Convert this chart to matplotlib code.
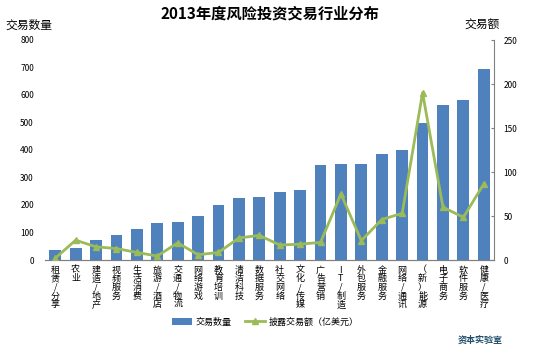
import matplotlib.pyplot as plt
import numpy as np
from matplotlib.lines import Line2D
from matplotlib.patches import Patch

plt.rcParams['font.family'] = ['Noto Sans CJK SC', 'DejaVu Sans']

categories = ["租赁/分享", "农业", "建造/地产", "视频服务", "生活消费", "旅游/酒店",
              "交通/物流", "网络游戏", "教育培训", "清洁科技", "数据服务", "社交网络",
              "文化/传媒", "广告营销", "IT/制造", "外包服务", "金融服务", "网络/通讯",
              "（新）能源", "电子商务", "软件服务", "健康/医疗"]
deal_counts = [36, 44, 73, 91, 113, 135, 138, 160, 200, 225, 229, 248,
               253, 344, 350, 350, 384, 399, 497, 562, 581, 693]
deal_amounts = [2, 22.5, 15, 13, 8.6, 4.5, 19.5, 6, 8.6, 25, 28, 17,
                18, 20, 75, 22, 46, 53, 190, 60, 48.5, 86.5]

BLUE = "#4f81bd"
GREEN = "#9bbb59"


def vertical(label):
    # one character per line
    return "\n".join(label)


fig = plt.figure(figsize=(5.4, 3.48), dpi=100)
ax = fig.add_axes([45 / 540, 88 / 348, 449 / 540, 220 / 348])
ax2 = ax.twinx()

x = np.arange(len(categories))
ax.bar(x, deal_counts, width=0.58, color=BLUE, zorder=2)
ax.set_xlim(-0.5, len(categories) - 0.5)
ax.set_ylim(0, 800)
ax.set_yticks(range(0, 801, 100))
ax.tick_params(axis="y", length=0, labelsize=6, pad=8)
ax.set_xticks(x)
ax.set_xticklabels([vertical(c) for c in categories], fontsize=6.5,
                   linespacing=0.95, va="top")
ax.tick_params(axis="x", length=0, pad=4)

ax2.plot(x, deal_amounts, color=GREEN, lw=2, marker="^", markersize=5, zorder=3)
ax2.set_ylim(0, 250)
ax2.set_yticks(range(0, 251, 50))
ax2.tick_params(axis="y", labelsize=6, length=2.5, direction="in", pad=7,
                color="#808080")

for a in (ax, ax2):
    for s in ("top", "left"):
        a.spines[s].set_visible(False)
ax.spines["right"].set_visible(False)
ax2.spines["right"].set_color("#808080")
ax2.spines["bottom"].set_color("#808080")
ax.spines["bottom"].set_color("#808080")

fig.text(0.5, 0.96, "2013年度风险投资交易行业分布", ha="center", va="center",
         fontsize=11, fontweight="bold")
fig.text(5 / 540, 1 - 25 / 348, "交易数量", ha="left", va="center", fontsize=8.5)
fig.text(500 / 540, 1 - 25 / 348, "交易额", ha="right", va="center", fontsize=8.5)

handles = [Patch(facecolor=BLUE, label="交易数量"),
           Line2D([], [], color=GREEN, lw=2, marker="^", markersize=5,
                  label="披露交易额（亿美元）")]
fig.legend(handles=handles, loc="center", bbox_to_anchor=(265 / 540, 1 - 322 / 348),
           ncol=2, frameon=False, fontsize=6.5, handlelength=2.2,
           handleheight=0.8, columnspacing=1.5, handletextpad=0.4)

fig.text(480 / 540, 1 - 340 / 348, "资本实验室", ha="center", va="center",
         fontsize=6.5, fontweight="bold", color="#1f4e6b")

fig.savefig("out.png", dpi=100)
